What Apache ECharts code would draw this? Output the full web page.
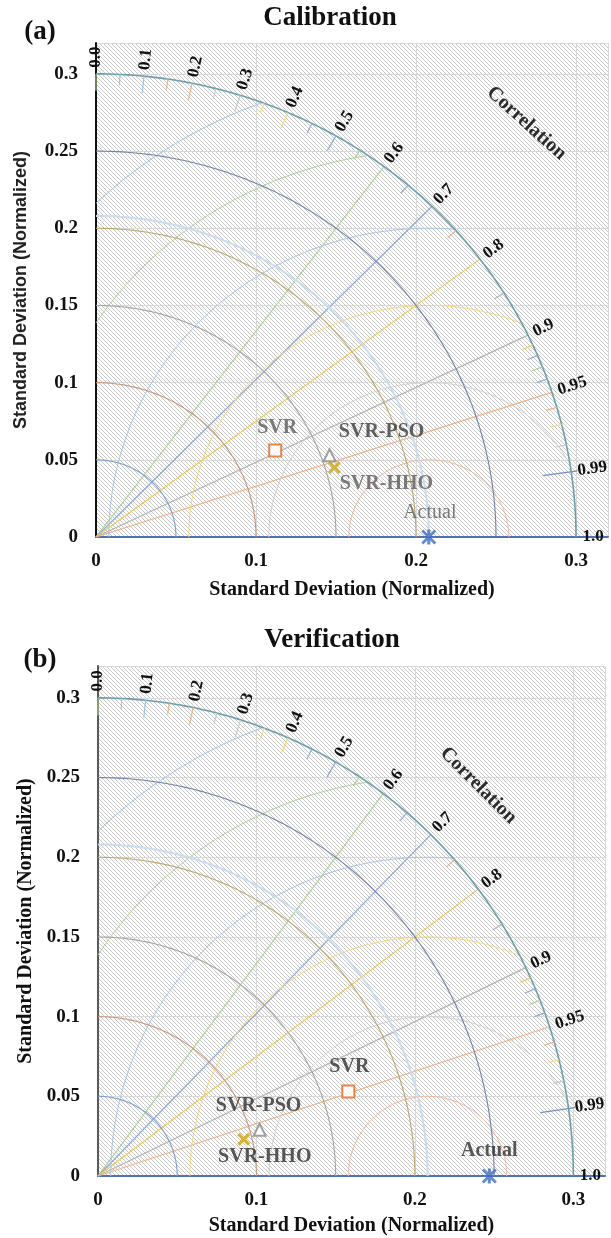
<!DOCTYPE html>
<html>
<head>
<meta charset="utf-8">
<script src="https://cdn.jsdelivr.net/npm/echarts@6/dist/echarts.min.js"></script>
<style>
  html, body { margin: 0; padding: 0; background: #fff; }
  #main { width: 611px; height: 1238px; }
</style>
</head>
<body>
<div id="main"></div>
<script>
// models, plotted as x / y parts of the standard deviation (normalized)
var models = ['SVR', 'SVR-PSO', 'SVR-HHO', 'Actual'];
// (a) Calibration
var calibX = [0.112, 0.146, 0.149, 0.208];
var calibY = [0.056, 0.053, 0.045, 0];
// (b) Verification
var verifX = [0.158, 0.102, 0.092, 0.247];
var verifY = [0.053, 0.029, 0.023, 0];

// diagram frame
var refStd = 0.208;
var stdArcs = [0.05, 0.1, 0.15, 0.2, 0.25, 0.3];
var rmsArcs = [0.05, 0.1, 0.15, 0.2, 0.25, 0.3];
var corrRays = [0.6, 0.7, 0.8, 0.9, 0.95];
var corrTicks = [0.0, 0.05, 0.1, 0.15, 0.2, 0.25, 0.3, 0.35, 0.4, 0.45, 0.5, 0.55, 0.65, 0.75, 0.85,
                 0.91, 0.92, 0.93, 0.94, 0.96, 0.97, 0.98, 0.99];
var corrLabels = ['0.0', '0.1', '0.2', '0.3', '0.4', '0.5', '0.6', '0.7', '0.8', '0.9', '0.95', '0.99', '1.0'];
var xTickLabels = ['0', '0.1', '0.2', '0.3'];
var yTickLabels = ['0', '0.05', '0.1', '0.15', '0.2', '0.25', '0.3'];

// styles
var stdColors = ['#7b9fd0', '#c8957a', '#a3a3a3', '#bca86a', '#7281ac', '#6c9fac'];
var rmsColors = ['#f4b89a', '#cfcfcf', '#f8d675', '#a9c5e8', '#acd193', '#9dc2e6'];
var rayColors = ['#a9d18e', '#8eaadb', '#f2c84b', '#b4b4b4', '#f4b183'];
var tickColors = {
  0: '#a9d18e', 0.05: '#9dc3e6', 0.1: '#9dc3e6', 0.15: '#f4b183', 0.2: '#f4b183', 0.25: '#c9c9c9',
  0.3: '#c9c9c9', 0.35: '#ffd966', 0.4: '#ffd966', 0.45: '#8eaadb', 0.5: '#8eaadb', 0.55: '#a9d18e',
  0.65: '#8eaadb', 0.75: '#f4b183', 0.85: '#b4b4b4', 0.91: '#f2c84b', 0.92: '#8eaadb', 0.93: '#a9d18e',
  0.94: '#8eaadb', 0.96: '#f4b183', 0.97: '#ffd966', 0.98: '#c9c9c9', 0.99: '#6f8fcf'
};
var serif = '"Liberation Serif", "Times New Roman", serif';

var chart = echarts.init(document.getElementById('main'));

// hatched plot background
function hatch() {
  var c = document.createElement('canvas');
  c.width = 4; c.height = 4;
  var ctx = c.getContext('2d');
  ctx.strokeStyle = '#c8c8c8';
  ctx.lineWidth = 1;
  ctx.beginPath();
  for (var k = -1; k <= 1; k++) {
    ctx.moveTo(k * 4, 0);
    ctx.lineTo(k * 4 + 4, 4);
  }
  ctx.stroke();
  return c;
}
var hatchImg = hatch();

function arcPts(cx, r, a0, a1) {
  var pts = [];
  var n = 120;
  for (var i = 0; i <= n; i++) {
    var a = a0 + (a1 - a0) * i / n;
    pts.push([cx + r * Math.cos(a), r * Math.sin(a)]);
  }
  return pts;
}

function line(g, pts, color, width) {
  return {
    type: 'line', xAxisIndex: g, yAxisIndex: g, data: pts, symbol: 'none',
    silent: true, animation: false, z: 2,
    lineStyle: { color: color, width: width || 1 }
  };
}

function frameSeries(g) {
  var out = [];
  // correlation rays
  corrRays.forEach(function (c, i) {
    var th = Math.acos(c);
    out.push(line(g, [[0, 0], [0.3 * Math.cos(th), 0.3 * Math.sin(th)]], rayColors[i], 1.2));
  });
  // rmsd circles round the reference, kept inside the outer arc
  rmsArcs.forEach(function (R, i) {
    var k = (0.09 - refStd * refStd - R * R) / (2 * refStd * R);
    var a0 = Math.acos(Math.max(-1, Math.min(1, k)));
    var a1 = Math.acos(Math.max(-1, -refStd / R));
    out.push(line(g, arcPts(refStd, R, a0, a1), rmsColors[i], 1));
  });
  // standard deviation arcs
  out.push(line(g, arcPts(0, refStd, 0, Math.PI / 2), '#cadcef', 2));
  stdArcs.forEach(function (r, i) {
    out.push(line(g, arcPts(0, r, 0, Math.PI / 2), stdColors[i], r === 0.3 ? 1.6 : 1.1));
  });
  // correlation ticks on the outer arc
  corrTicks.forEach(function (c) {
    var th = Math.acos(c);
    var tenth = Math.abs(c * 10 - Math.round(c * 10)) < 1e-6 && c < 0.6;
    var len = c === 0.99 ? 0.022 : (tenth ? 0.011 : 0.007);
    var r1 = c === 0.99 ? 0.304 : 0.3;
    out.push(line(g, [[(r1 - len) * Math.cos(th), (r1 - len) * Math.sin(th)],
                      [r1 * Math.cos(th), r1 * Math.sin(th)]], tickColors[c], 1.2));
  });
  // correlation labels
  out.push({
    type: 'custom', xAxisIndex: g, yAxisIndex: g, silent: true, animation: false, z: 6,
    data: corrLabels.map(function (l) { return [parseFloat(l), 0]; }),
    renderItem: function (params, api) {
      var th = Math.acos(api.value(0));
      var p = api.coord([0.304 * Math.cos(th), 0.304 * Math.sin(th)]);
      return {
        type: 'text', x: p[0], y: p[1], rotation: th,
        style: { text: corrLabels[params.dataIndex], font: 'bold 17px ' + serif, fill: '#111',
                 align: 'left', verticalAlign: 'middle' }
      };
    }
  });
  return out;
}

function corrTitle(g, pos, rot) {
  return {
    type: 'custom', xAxisIndex: g, yAxisIndex: g, silent: true, animation: false, z: 6,
    data: [pos],
    renderItem: function (params, api) {
      var p = api.coord([api.value(0), api.value(1)]);
      return {
        type: 'text', x: p[0], y: p[1], rotation: rot * Math.PI / 180,
        style: { text: 'Correlation', font: 'bold 20px ' + serif, fill: '#2b2b2b',
                 align: 'center', verticalAlign: 'middle' }
      };
    }
  };
}

var symbols = [
  'rect',
  'triangle',
  'path://M0,1.8L1.8,0L5,3.2L8.2,0L10,1.8L6.8,5L10,8.2L8.2,10L5,6.8L1.8,10L0,8.2L3.2,5Z',
  'path://M4,0h2v10h-2z M1.3,0L5,3.7L8.7,0L10,1.3L6.3,5L10,8.7L8.7,10L5,6.3L1.3,10L0,8.7L3.7,5L0,1.3Z'
];
var symbolSizes = [12, 12, 13, 15];
var markerStyles = [
  { color: '#ffffff', borderColor: '#e06a1b', borderWidth: 2 },
  { color: '#ffffff', borderColor: '#8a8a8a', borderWidth: 2 },
  { color: '#d4a10a', borderWidth: 0 },
  { color: '#3c6cc4', borderWidth: 0 }
];

function markerSeries(g, xs, ys, offsets, labelStyles) {
  return models.map(function (m, i) {
    return {
      type: 'scatter', name: m, xAxisIndex: g, yAxisIndex: g, animation: false, z: 8,
      symbol: symbols[i], symbolSize: symbolSizes[i],
      itemStyle: markerStyles[i],
      data: [[xs[i], ys[i]]],
      label: {
        show: true, position: 'inside', offset: offsets[i], formatter: m,
        fontFamily: serif, fontSize: 20, fontWeight: labelStyles[i][1], color: labelStyles[i][0]
      }
    };
  });
}

function xAxis(g, gap) {
  return {
    gridIndex: g, type: 'value', min: 0, max: 0.32, interval: 0.1,
    name: 'Standard Deviation (Normalized)', nameLocation: 'middle', nameGap: gap,
    nameTextStyle: { fontFamily: serif, fontWeight: 'bold', fontSize: 20, color: '#111' },
    axisLine: { show: true, onZero: false, lineStyle: { color: '#4f73b6', width: 2 } },
    axisTick: { show: false },
    axisLabel: {
      showMaxLabel: false, margin: 15, fontFamily: serif, fontWeight: 'bold', fontSize: 19, color: '#111',
      formatter: function (v) { return xTickLabels[Math.round(v * 10)] || ''; }
    },
    splitLine: { show: true, lineStyle: { color: '#d9d9d9', width: 1 } }
  };
}

function yAxis(g, gap, nameFont, lineColor) {
  return {
    gridIndex: g, type: 'value', min: 0, max: 0.32, interval: 0.05,
    name: 'Standard Deviation (Normalized)', nameLocation: 'middle', nameGap: gap,
    nameTextStyle: nameFont,
    axisLine: { show: true, onZero: false, lineStyle: { color: lineColor, width: 2 } },
    axisTick: { show: false },
    axisLabel: {
      showMaxLabel: false, margin: 18, fontFamily: serif, fontWeight: 'bold', fontSize: 19, color: '#111',
      formatter: function (v) { return yTickLabels[Math.round(v * 20)] || ''; }
    },
    splitLine: { show: true, lineStyle: { color: '#d9d9d9', width: 1 } }
  };
}

var gridBg = { image: hatchImg, repeat: 'repeat' };

var option = {
  backgroundColor: '#fff',
  animation: false,
  grid: [
    { left: 96, top: 43, width: 512, height: 494, show: true, backgroundColor: gridBg, borderWidth: 0 },
    { left: 98, top: 666, width: 507, height: 510, show: true, backgroundColor: gridBg, borderWidth: 0 }
  ],
  xAxis: [xAxis(0, 43), xAxis(1, 40)],
  yAxis: [
    yAxis(0, 66, { fontFamily: '"Liberation Sans Narrow", "Liberation Sans", sans-serif', fontWeight: 'bold', fontSize: 18, color: '#222' }, '#111'),
    yAxis(1, 62, { fontFamily: serif, fontWeight: 'bold', fontSize: 20, color: '#111' }, '#5a5a5a')
  ],
  graphic: [
    { type: 'text', x: 330, y: 18, style: { text: 'Calibration', font: 'bold 27px ' + serif, fill: '#111', align: 'center', verticalAlign: 'middle' } },
    { type: 'text', x: 40, y: 32, style: { text: '(a)', font: 'bold 27px ' + serif, fill: '#111', align: 'center', verticalAlign: 'middle' } },
    { type: 'text', x: 332, y: 640, style: { text: 'Verification', font: 'bold 27px ' + serif, fill: '#111', align: 'center', verticalAlign: 'middle' } },
    { type: 'text', x: 40, y: 660, style: { text: '(b)', font: 'bold 27px ' + serif, fill: '#111', align: 'center', verticalAlign: 'middle' } }
  ],
  series: [].concat(
    frameSeries(0),
    [corrTitle(0, [0.269, 0.268], -42)],
    markerSeries(0, calibX, calibY, [[2, -23], [52, -23], [52, 16], [1, -24]],
      [['#5a5a5a', 'bold'], ['#3a3a3a', 'bold'], ['#5a5a5a', 'bold'], ['#5a5a5a', 'normal']]),
    frameSeries(1),
    [corrTitle(1, [0.240, 0.245], -45)],
    markerSeries(1, verifX, verifY, [[1, -25], [-1, -24], [21, 17], [0, -25]],
      [['#2e2e2e', 'bold'], ['#2e2e2e', 'bold'], ['#2e2e2e', 'bold'], ['#2e2e2e', 'bold']])
  )
};

chart.setOption(option);
</script>
</body>
</html>
